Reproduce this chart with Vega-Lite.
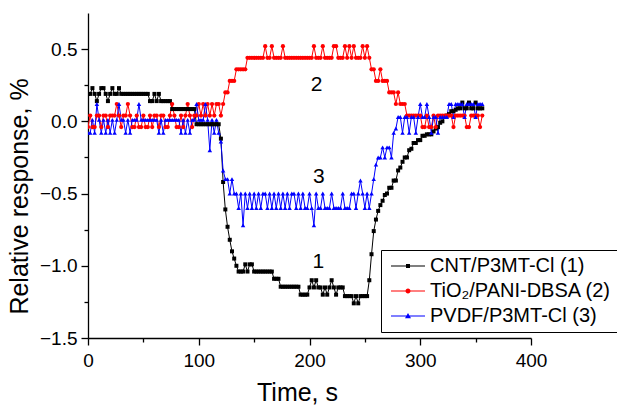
{
"$schema":"https://vega.github.io/schema/vega-lite/v6.json",
"autosize":"none",
"width":443,"height":325,
"padding":{"left":88,"top":13,"right":86,"bottom":67},
"background":"white",
"config":{"view":{"stroke":null},"font":"Liberation Sans"},
"datasets":{
"series":[
{"t":0,"a":0.19,"b":-0.04,"c":-0.08},{"t":2,"a":0.19,"b":0.04,"c":-0.08},{"t":4,"a":0.23,"b":-0.04,"c":0.01},{"t":6,"a":0.19,"b":-0.04,"c":-0.08},{"t":8,"a":0.14,"b":0.04,"c":0.12},{"t":10,"a":0.19,"b":0.04,"c":0.01},{"t":12,"a":0.23,"b":-0.04,"c":-0.08},{"t":14,"a":0.23,"b":0.04,"c":0.01},{"t":16,"a":0.19,"b":0.04,"c":-0.08},{"t":18,"a":0.14,"b":-0.04,"c":0.01},
{"t":20,"a":0.19,"b":0.04,"c":-0.08},{"t":22,"a":0.23,"b":0.04,"c":0.01},{"t":24,"a":0.19,"b":0.04,"c":-0.08},{"t":26,"a":0.19,"b":0.12,"c":0.01},{"t":28,"a":0.23,"b":0.04,"c":0.12},{"t":30,"a":0.19,"b":-0.04,"c":0.01},{"t":32,"a":0.19,"b":0.04,"c":0.01},{"t":34,"a":0.19,"b":0.04,"c":-0.08},{"t":36,"a":0.19,"b":0.12,"c":0.01},{"t":38,"a":0.19,"b":0.04,"c":-0.08},
{"t":40,"a":0.19,"b":-0.04,"c":0.01},{"t":42,"a":0.19,"b":-0.04,"c":0.01},{"t":44,"a":0.19,"b":0.04,"c":0.01},{"t":46,"a":0.19,"b":-0.04,"c":0.12},{"t":48,"a":0.19,"b":-0.04,"c":0.01},{"t":50,"a":0.19,"b":0.04,"c":0.01},{"t":52,"a":0.19,"b":-0.04,"c":0.01},{"t":54,"a":0.19,"b":-0.04,"c":0.01},{"t":56,"a":0.14,"b":0.04,"c":0.01},{"t":58,"a":0.14,"b":-0.04,"c":0.01},
{"t":60,"a":0.19,"b":0.04,"c":0.01},{"t":62,"a":0.14,"b":0.04,"c":0.01},{"t":64,"a":0.19,"b":-0.04,"c":-0.08},{"t":66,"a":0.14,"b":0.04,"c":0.01},{"t":68,"a":0.14,"b":0.04,"c":-0.08},{"t":70,"a":0.14,"b":-0.04,"c":0.01},{"t":72,"a":0.14,"b":-0.04,"c":0.01},{"t":74,"a":0.14,"b":0.04,"c":0.01},{"t":76,"a":0.085,"b":0.12,"c":0.01},{"t":78,"a":0.085,"b":0.04,"c":0.01},
{"t":80,"a":0.085,"b":-0.04,"c":0.01},{"t":82,"a":0.085,"b":-0.04,"c":0.01},{"t":84,"a":0.085,"b":0.04,"c":-0.08},{"t":86,"a":0.085,"b":-0.04,"c":0.01},{"t":88,"a":0.085,"b":0.04,"c":-0.08},{"t":90,"a":0.085,"b":0.12,"c":0.01},{"t":92,"a":0.085,"b":0.04,"c":-0.08},{"t":94,"a":0.085,"b":-0.04,"c":0.01},{"t":96,"a":0.085,"b":0.04,"c":0.01},{"t":98,"a":-0.02,"b":0.04,"c":0.12},
{"t":100,"a":-0.02,"b":0.12,"c":0.01},{"t":102,"a":-0.02,"b":0.04,"c":0.01},{"t":104,"a":-0.02,"b":0.12,"c":0.01},{"t":106,"a":-0.02,"b":0.04,"c":0.12},{"t":108,"a":-0.02,"b":0.12,"c":0.01},{"t":110,"a":-0.02,"b":0.04,"c":-0.2},{"t":112,"a":-0.02,"b":0.12,"c":0.01},{"t":114,"a":-0.02,"b":0.04,"c":-0.08},{"t":116,"a":-0.02,"b":0.12,"c":0.01},{"t":118,"a":-0.02,"b":0.12,"c":-0.08},
{"t":120,"a":-0.12,"b":0.04,"c":-0.14},{"t":122,"a":-0.42,"b":0.12,"c":-0.34},{"t":124,"a":-0.61,"b":0.2,"c":-0.4},{"t":126,"a":-0.73,"b":0.2,"c":-0.4},{"t":128,"a":-0.82,"b":0.28,"c":-0.5},{"t":130,"a":-0.9,"b":0.28,"c":-0.4},{"t":132,"a":-0.95,"b":0.28,"c":-0.5},{"t":134,"a":-1.0,"b":0.36,"c":-0.5},{"t":136,"a":-1.04,"b":0.36,"c":-0.6},{"t":138,"a":-1.04,"b":0.36,"c":-0.5},
{"t":140,"a":-1.04,"b":0.36,"c":-0.72},{"t":142,"a":-0.99,"b":0.36,"c":-0.5},{"t":144,"a":-1.04,"b":0.44,"c":-0.6},{"t":146,"a":-0.99,"b":0.44,"c":-0.5},{"t":148,"a":-0.99,"b":0.44,"c":-0.6},{"t":150,"a":-1.04,"b":0.44,"c":-0.5},{"t":152,"a":-1.04,"b":0.44,"c":-0.6},{"t":154,"a":-1.04,"b":0.44,"c":-0.5},{"t":156,"a":-1.04,"b":0.44,"c":-0.6},{"t":158,"a":-1.04,"b":0.44,"c":-0.5},
{"t":160,"a":-1.04,"b":0.52,"c":-0.5},{"t":162,"a":-1.04,"b":0.44,"c":-0.6},{"t":164,"a":-1.04,"b":0.44,"c":-0.5},{"t":166,"a":-1.04,"b":0.52,"c":-0.6},{"t":168,"a":-1.09,"b":0.44,"c":-0.5},{"t":170,"a":-1.09,"b":0.44,"c":-0.6},{"t":172,"a":-1.09,"b":0.44,"c":-0.5},{"t":174,"a":-1.145,"b":0.44,"c":-0.6},{"t":176,"a":-1.145,"b":0.52,"c":-0.5},{"t":178,"a":-1.145,"b":0.44,"c":-0.6},
{"t":180,"a":-1.145,"b":0.44,"c":-0.5},{"t":182,"a":-1.145,"b":0.44,"c":-0.6},{"t":184,"a":-1.145,"b":0.44,"c":-0.5},{"t":186,"a":-1.145,"b":0.44,"c":-0.5},{"t":188,"a":-1.145,"b":0.44,"c":-0.6},{"t":190,"a":-1.145,"b":0.44,"c":-0.5},{"t":192,"a":-1.2,"b":0.44,"c":-0.6},{"t":194,"a":-1.2,"b":0.44,"c":-0.5},{"t":196,"a":-1.2,"b":0.44,"c":-0.6},{"t":198,"a":-1.2,"b":0.44,"c":-0.6},
{"t":200,"a":-1.15,"b":0.44,"c":-0.5},{"t":202,"a":-1.1,"b":0.44,"c":-0.6},{"t":204,"a":-1.15,"b":0.52,"c":-0.72},{"t":206,"a":-1.1,"b":0.44,"c":-0.5},{"t":208,"a":-1.15,"b":0.44,"c":-0.6},{"t":210,"a":-1.15,"b":0.44,"c":-0.6},{"t":212,"a":-1.2,"b":0.52,"c":-0.5},{"t":214,"a":-1.15,"b":0.44,"c":-0.6},{"t":216,"a":-1.2,"b":0.44,"c":-0.6},{"t":218,"a":-1.15,"b":0.44,"c":-0.6},
{"t":220,"a":-1.1,"b":0.44,"c":-0.5},{"t":222,"a":-1.15,"b":0.52,"c":-0.6},{"t":224,"a":-1.2,"b":0.52,"c":-0.6},{"t":226,"a":-1.15,"b":0.44,"c":-0.6},{"t":228,"a":-1.15,"b":0.44,"c":-0.6},{"t":230,"a":-1.15,"b":0.44,"c":-0.5},{"t":232,"a":-1.21,"b":0.52,"c":-0.6},{"t":234,"a":-1.21,"b":0.44,"c":-0.6},{"t":236,"a":-1.21,"b":0.52,"c":-0.6},{"t":238,"a":-1.21,"b":0.44,"c":-0.5},
{"t":240,"a":-1.26,"b":0.52,"c":-0.5},{"t":242,"a":-1.21,"b":0.44,"c":-0.6},{"t":244,"a":-1.26,"b":0.44,"c":-0.5},{"t":246,"a":-1.21,"b":0.44,"c":-0.41},{"t":248,"a":-1.21,"b":0.52,"c":-0.5},{"t":250,"a":-1.21,"b":0.44,"c":-0.6},{"t":252,"a":-1.21,"b":0.52,"c":-0.5},{"t":254,"a":-1.1,"b":0.44,"c":-0.6},{"t":256,"a":-0.92,"b":0.36,"c":-0.5},{"t":258,"a":-0.76,"b":0.36,"c":-0.4},
{"t":260,"a":-0.68,"b":0.28,"c":-0.3},{"t":262,"a":-0.62,"b":0.28,"c":-0.25},{"t":264,"a":-0.58,"b":0.36,"c":-0.25},{"t":266,"a":-0.55,"b":0.28,"c":-0.18},{"t":268,"a":-0.51,"b":0.28,"c":-0.25},{"t":270,"a":-0.5,"b":0.28,"c":-0.18},{"t":272,"a":-0.46,"b":0.2,"c":-0.18},{"t":274,"a":-0.46,"b":0.2,"c":-0.25},{"t":276,"a":-0.41,"b":0.2,"c":-0.08},{"t":278,"a":-0.41,"b":0.12,"c":-0.05},
{"t":280,"a":-0.34,"b":0.2,"c":0.03},{"t":282,"a":-0.32,"b":0.12,"c":0.03},{"t":284,"a":-0.28,"b":0.12,"c":-0.08},{"t":286,"a":-0.25,"b":0.12,"c":0.03},{"t":288,"a":-0.25,"b":0.04,"c":0.03},{"t":290,"a":-0.2,"b":0.04,"c":-0.08},{"t":292,"a":-0.19,"b":0.04,"c":0.03},{"t":294,"a":-0.15,"b":0.04,"c":0.03},{"t":296,"a":-0.15,"b":0.04,"c":-0.08},{"t":298,"a":-0.13,"b":0.04,"c":0.03},
{"t":300,"a":-0.13,"b":0.04,"c":0.12},{"t":302,"a":-0.1,"b":-0.04,"c":0.03},{"t":304,"a":-0.1,"b":-0.04,"c":0.03},{"t":306,"a":-0.09,"b":0.04,"c":0.12},{"t":308,"a":-0.09,"b":-0.04,"c":0.03},{"t":310,"a":-0.09,"b":-0.04,"c":-0.08},{"t":312,"a":-0.07,"b":0.04,"c":0.03},{"t":314,"a":-0.05,"b":-0.04,"c":0.03},{"t":316,"a":-0.04,"b":0.04,"c":-0.08},{"t":318,"a":-0.01,"b":0.04,"c":0.03},
{"t":320,"a":0.0,"b":0.04,"c":0.03},{"t":322,"a":0.03,"b":0.04,"c":0.03},{"t":324,"a":0.04,"b":0.04,"c":0.03},{"t":326,"a":0.05,"b":0.04,"c":0.12},{"t":328,"a":0.07,"b":0.04,"c":0.12},{"t":330,"a":0.07,"b":-0.04,"c":0.03},{"t":332,"a":0.08,"b":0.04,"c":0.12},{"t":334,"a":0.09,"b":0.04,"c":0.12},{"t":336,"a":0.09,"b":0.04,"c":0.12},{"t":338,"a":0.13,"b":0.04,"c":0.12},
{"t":340,"a":0.09,"b":0.04,"c":0.03},{"t":342,"a":0.09,"b":-0.04,"c":0.12},{"t":344,"a":0.13,"b":-0.04,"c":0.12},{"t":346,"a":0.09,"b":0.04,"c":0.12},{"t":348,"a":0.09,"b":0.04,"c":0.12},{"t":350,"a":0.13,"b":0.04,"c":0.03},{"t":352,"a":0.09,"b":0.04,"c":0.12},{"t":354,"a":0.09,"b":-0.04,"c":0.12},{"t":356,"a":0.09,"b":0.04,"c":0.12}
],
"labels":[{"t":206.5,"v":0.255,"l":"2"},{"t":208.5,"v":-0.384,"l":"3"},{"t":208,"v":-0.971,"l":"1"}],
"legend":[{"k":"a","t":-60,"v":0},{"k":"b","t":-60,"v":0},{"k":"c","t":-60,"v":0}]
},
"resolve":{"scale":{"color":"independent","shape":"independent"},"axis":{"x":"independent","y":"independent"}},
"layer":[
{
"data":{"name":"series"},
"transform":[{"fold":["a","b","c"],"as":["k","v"]}],
"mark":{"type":"line","strokeWidth":1,"clip":true},
"encoding":{
"x":{"field":"t","type":"quantitative","scale":{"domain":[0,400],"nice":false,"zero":false},
"axis":{"orient":"bottom","values":[0,100,200,300,400],"tickSize":7,"tickWidth":1.3,"domainWidth":1.3,"domainColor":"black","tickColor":"black","grid":false,"labelFont":"Liberation Sans","labelFontSize":19,"labelColor":"black","labelPadding":6,"labelFlush":false,"title":"Time, s","titleFont":"Liberation Sans","titleFontSize":25,"titleFontWeight":"normal","titleColor":"black","titleBaseline":"alphabetic","titleY":62,"titleX":209}},
"y":{"field":"v","type":"quantitative","scale":{"domain":[-1.5,0.75],"nice":false,"zero":false},
"axis":{"orient":"left","values":[-1.5,-1.0,-0.5,0.0,0.5],"format":".1f","tickSize":7,"tickWidth":1.3,"domainWidth":1.3,"domainColor":"black","tickColor":"black","grid":false,"labelFont":"Liberation Sans","labelFontSize":19,"labelColor":"black","labelPadding":4,"labelFlush":false,"title":"Relative response, %","titleFont":"Liberation Sans","titleFontSize":25,"titleFontWeight":"normal","titleColor":"black","titleAngle":-90,"titleBaseline":"alphabetic","titleAlign":"center","titleX":-61,"titleY":183}},
"color":{"field":"k","type":"nominal","scale":{"domain":["a","b","c"],"range":["#000000","#ff0000","#0000ff"]},"legend":null}
}
},
{
"data":{"name":"series"},
"transform":[{"fold":["a","b","c"],"as":["k","v"]}],
"mark":{"type":"point","filled":true,"opacity":1,"clip":true},
"encoding":{
"x":{"field":"t","type":"quantitative","axis":null},
"y":{"field":"v","type":"quantitative","axis":null},
"color":{"field":"k","type":"nominal","scale":{"domain":["a","b","c"],"range":["#000000","#ff0000","#0000ff"]},"legend":null},
"shape":{"field":"k","type":"nominal","scale":{"domain":["a","b","c"],"range":["square","circle","triangle-up"]},"legend":null},
"size":{"field":"k","type":"nominal","scale":{"domain":["a","b","c"],"range":[16,20,25]},"legend":null},
"order":{"field":"k"}
}
},
{
"data":{"name":"labels"},
"mark":{"type":"text","font":"Liberation Sans","fontSize":21,"color":"black","align":"center","baseline":"middle"},
"encoding":{
"x":{"field":"t","type":"quantitative","axis":{"orient":"bottom","values":[50,150,250,350],"tickSize":4,"tickWidth":1.3,"tickColor":"black","labels":false,"domain":false,"grid":false,"title":null}},
"y":{"field":"v","type":"quantitative","axis":{"orient":"left","values":[-1.25,-0.75,-0.25,0.25],"tickSize":4,"tickWidth":1.3,"tickColor":"black","labels":false,"domain":false,"grid":false,"title":null}},
"text":{"field":"l"}
}
},
{
"data":{"name":"legend"},
"mark":{"type":"point","filled":true,"clip":true},
"encoding":{
"x":{"field":"t","type":"quantitative","axis":null},
"y":{"field":"v","type":"quantitative","axis":null},
"color":{"field":"k","type":"nominal","scale":{"domain":["a","b","c"],"range":["#000000","#ff0000","#0000ff"]},
"legend":{"orient":"none","legendX":293,"legendY":237,"title":null,"padding":6,"strokeColor":"black","fillColor":"white","symbolSize":400,"symbolStrokeWidth":0,"symbolOpacity":1,"labelFont":"Liberation Sans","labelFontSize":20,"labelColor":"black","labelOffset":23,"labelLimit":0,"rowPadding":5,
"labelExpr":"datum.label == 'a' ? 'CNT/P3MT-Cl (1)' : datum.label == 'b' ? 'TiO₂/PANI-DBSA (2)' : 'PVDF/P3MT-Cl (3)'"}},
"shape":{"field":"k","type":"nominal","scale":{"domain":["a","b","c"],"range":["M-0.6,-0.05H2.8V0.05H-0.6Z M0.9,-0.2H1.3V0.2H0.9Z","M-0.6,-0.05H2.8V0.05H-0.6Z M0.85,0A0.25,0.25,0,1,1,1.35,0A0.25,0.25,0,1,1,0.85,0Z","M-0.6,-0.05H2.8V0.05H-0.6Z M1.1,-0.3L1.4,0.22H0.8Z"]},
"legend":{"orient":"none","legendX":293,"legendY":237,"title":null,"padding":6,"strokeColor":"black","fillColor":"white","symbolSize":400,"symbolStrokeWidth":0,"symbolOpacity":1,"labelFont":"Liberation Sans","labelFontSize":20,"labelColor":"black","labelOffset":23,"labelLimit":0,"rowPadding":5,
"labelExpr":"datum.label == 'a' ? 'CNT/P3MT-Cl (1)' : datum.label == 'b' ? 'TiO₂/PANI-DBSA (2)' : 'PVDF/P3MT-Cl (3)'"}}
}
}
]
}
